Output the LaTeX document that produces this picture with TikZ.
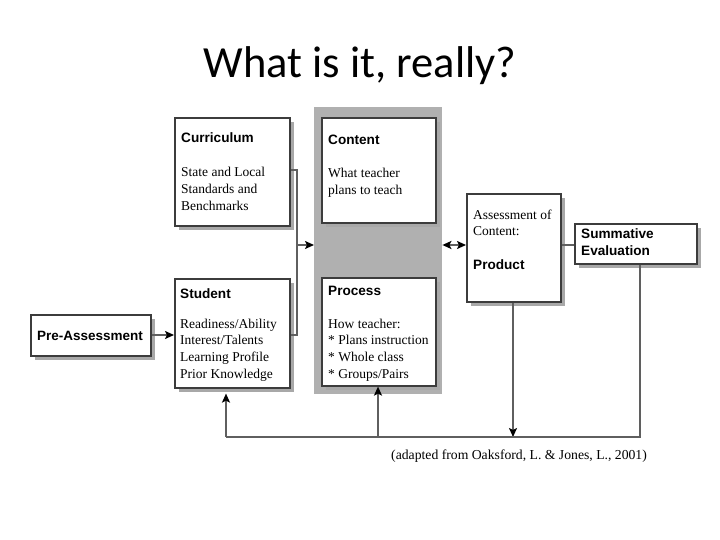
\documentclass[tikz,border=0pt]{standalone}
\usepackage{fontspec}
\setmainfont{Liberation Serif}
\newfontfamily\headfont{Liberation Sans}
\newfontfamily\titlefont{Carlito}
\usetikzlibrary{arrows.meta,shadows}
\definecolor{bandgray}{RGB}{176,176,176}
\definecolor{shadegray}{RGB}{168,168,168}
\definecolor{boxink}{RGB}{60,60,60}
\definecolor{lineink}{RGB}{95,95,95}
\tikzset{
  box/.style={draw=boxink, line width=1.6pt, fill=white, inner sep=0pt,
    drop shadow={shadow xshift=4pt, shadow yshift=-4pt, fill=shadegray, opacity=1}},
  head/.style={font=\headfont\bfseries\fontsize{13.6}{15}\selectfont, inner sep=0pt, anchor=base west},
  body/.style={font=\fontsize{13.5}{15}\selectfont, inner sep=0pt, anchor=base west},
  conn/.style={draw=lineink, line width=1.8pt},
  arr/.tip={Stealth[length=9pt,width=8pt,inset=2pt,color=black]},
  tip/.style={-arr},
}
\begin{document}
\begin{tikzpicture}[x=1pt,y=-1pt]
\useasboundingbox (0,0) rectangle (720,540);
% title
\node[font=\titlefont\fontsize{44.5}{48}\selectfont, inner sep=0pt, anchor=base] (title) at (360,78) {What is it, really?};
% grey band
\node[fill=bandgray, inner sep=0pt, minimum width=128pt, minimum height=287pt, anchor=north west] (band) at (314,107) {};
% boxes
\node[box, minimum width=115pt, minimum height=108pt, anchor=north west] (curr) at (174,117) {};
\node[box, minimum width=114pt, minimum height=105pt, anchor=north west, drop shadow={opacity=0}] (content) at (321,117) {};
\node[box, minimum width=115pt, minimum height=109pt, anchor=north west] (student) at (174,278) {};
\node[box, minimum width=114pt, minimum height=108pt, anchor=north west, drop shadow={opacity=0}] (process) at (321,277) {};
\node[box, minimum width=120pt, minimum height=41pt, anchor=north west] (pre) at (30,314) {};
\node[box, minimum width=94pt, minimum height=108pt, anchor=north west] (assess) at (466,193) {};
\node[box, minimum width=122pt, minimum height=40pt, anchor=north west] (summ) at (574,223) {};
% texts
\node[head] (curr-h) at (181,143) {Curriculum};
\foreach \t [count=\i] in {State and Local, Standards and, Benchmarks}
  \node[body] (curr-\i) at (181,{177+16.6*(\i-1)}) {\t};
\node[head] (content-h) at (328,145) {Content};
\foreach \t [count=\i] in {What teacher, plans to teach}
  \node[body] (content-\i) at (328,{178+16.6*(\i-1)}) {\t};
\node[head] (student-h) at (180,298) {Student};
\foreach \t [count=\i] in {Readiness/Ability, Interest/Talents, Learning Profile, Prior Knowledge}
  \node[body] (student-\i) at (180,{328+16.7*(\i-1)}) {\t};
\node[head] (process-h) at (328,295) {Process};
\foreach \t [count=\i] in {How teacher:, * Plans instruction, * Whole class, * Groups/Pairs}
  \node[body] (process-\i) at (328,{328+16.9*(\i-1)}) {\t};
\node[head, font=\headfont\bfseries\fontsize{13.5}{15}\selectfont] (pre-h) at (37,340) {Pre-Assessment};
\node[body] (assess-1) at (473,220) {Assessment of};
\node[body] (assess-2) at (473,236) {Content:};
\node[head] (assess-h) at (473,269) {Product};
\node[head] (summ-1) at (581,239) {Summative};
\node[head] (summ-2) at (581,255) {Evaluation};
\node[body, font=\fontsize{13.7}{15}\selectfont] (caption) at (391,459) {(adapted from Oaksford, L. \& Jones, L., 2001)};
% connector coordinates
\coordinate (bk-top) at (297,170);
\coordinate (bk-bot) at (297,335);
\coordinate (bk-mid) at (297,245);
\coordinate (fb-r) at (640,437);
\coordinate (fb-m) at (513,437);
\coordinate (fb-p) at (378,437);
\coordinate (fb-l) at (226,437);
% connectors
\draw[conn, tip] (pre.east |- 0,335) -- (student.west |- 0,335);
\draw[conn] (curr.east |- bk-top) -- (bk-top) -- (bk-bot) -- (student.east |- bk-bot);
\draw[conn, tip] (bk-mid) -- (band.west |- bk-mid);
\draw[conn, arr-arr] (band.east |- 0,245) -- (assess.west |- 0,245);
\draw[conn] (assess.east |- 0,245) -- (summ.west |- 0,245);
\draw[conn, tip] (assess.south -| fb-m) -- (fb-m);
\draw[conn] (summ.south -| fb-r) -- (fb-r) -- (fb-l);
\draw[conn, tip] (fb-l) -- ([yshift=-5pt]student.south -| fb-l);
\draw[conn, tip] (fb-p) -- (process.south -| fb-p);
\end{tikzpicture}
\end{document}
